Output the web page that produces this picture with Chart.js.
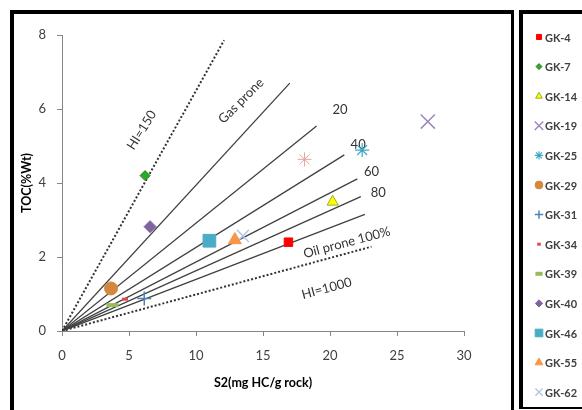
<!DOCTYPE html>
<html>
<head>
<meta charset="utf-8">
<script src="https://cdn.jsdelivr.net/npm/chart.js@4.4.0/dist/chart.umd.min.js"></script>
<style>
  html, body { margin: 0; padding: 0; background: #fff; }
  #wrap { position: relative; width: 582px; height: 410px; overflow: hidden; }
  #myChart { position: absolute; left: 0; top: 0; }
  .frame { position: absolute; border: 0 solid #000; box-sizing: border-box; }
</style>
</head>
<body>
<div id="wrap">
  <canvas id="myChart" width="582" height="410" style="width:582px;height:410px"></canvas>
  <div class="frame" style="left:10px; top:10px; width:504px; height:420px; border-width:4px 3px 0 4px;"></div>
  <div class="frame" style="left:519px; top:10px; width:80px; height:399px; border-width:4px 0 2px 4px;"></div>
</div>
<script>
// samples (the last one is not in the legend)
const samples = ["GK-4", "GK-7", "GK-14", "GK-19", "GK-25", "GK-29", "GK-31", "GK-34", "GK-39", "GK-40", "GK-46", "GK-55", "GK-62", ""];
const s2Values = [16.9, 6.2, 20.2, 27.3, 22.4, 3.66, 6.14, 4.7, 3.76, 6.57, 11.0, 12.9, 13.5, 18.1];
const tocValues = [2.40, 4.20, 3.49, 5.66, 4.89, 1.15, 0.88, 0.86, 0.70, 2.82, 2.44, 2.46, 2.57, 4.64];

// reference lines from the origin
const lineNames = ["HI=150", "Gas prone", "20", "40", "60", "80", "Oil prone 100%", "HI=1000"];
const lineEndS2 = [12.1, 17.0, 19.0, 21.07, 22.04, 22.3, 22.6, 23.1];
const lineEndToc = [7.86, 6.70, 5.54, 4.76, 4.11, 3.63, 3.15, 2.28];

// text labels on the plot
const labelTexts = ["HI=150", "Gas prone", "20", "40", "60", "80", "Oil prone 100%", "HI=1000"];
const labelS2 = [5.95, 13.36, 20.75, 22.1, 23.1, 23.6, 21.25, 19.75];
const labelToc = [5.43, 6.22, 5.99, 5.03, 4.31, 3.74, 2.39, 1.15];

const xTicks = [0, 5, 10, 15, 20, 25, 30];
const yTicks = [0, 2, 4, 6, 8];

// styles
const markers = [
  { style: "rect", color: "#ff0000", border: "#ff0000", r: 6, w: 1 },
  { style: "rectRot", color: "#22b022", border: "#3a7a2a", r: 5, w: 1 },
  { style: "triangle", color: "#ffff00", border: "#9aae2e", r: 6.5, w: 1 },
  { style: "crossRot", color: "#9f88c2", border: "#9f88c2", r: 10, w: 1.5 },
  { style: "star", color: "#3ea8c4", border: "#3ea8c4", r: 7, w: 1.2 },
  { style: "circle", color: "#d4883e", border: "#d4883e", r: 6.5, w: 1 },
  { style: "cross", color: "#4f81bd", border: "#4f81bd", r: 7, w: 1.5 },
  { style: "line", color: "#e04a46", border: "#e04a46", r: 3, w: 3 },
  { style: "line", color: "#9bbb59", border: "#9bbb59", r: 6, w: 4 },
  { style: "rectRot", color: "#8064a2", border: "#8064a2", r: 6, w: 1 },
  { style: "rect", color: "#4bacc6", border: "#4bacc6", r: 9, w: 1 },
  { style: "triangle", color: "#f79646", border: "#f79646", r: 7.5, w: 1 },
  { style: "crossRot", color: "#b4c7e7", border: "#b4c7e7", r: 8.5, w: 1.5 },
  { style: "star", color: "#e6a3a0", border: "#e6a3a0", r: 7, w: 1 }
];
const lineDotted = [true, false, false, false, false, false, false, true];
const labelAngle = [-58, -45, 0, 0, 0, 0, -15, -15];

const datasets = [];
for (let i = 0; i < samples.length; i++) {
  const m = markers[i];
  datasets.push({
    label: samples[i],
    data: [{ x: s2Values[i], y: tocValues[i] }],
    pointStyle: m.style,
    pointRadius: m.r,
    pointBackgroundColor: m.color,
    pointBorderColor: m.border,
    pointBorderWidth: m.w,
    showLine: false
  });
}
for (let i = 0; i < lineNames.length; i++) {
  datasets.push({
    label: lineNames[i],
    data: [{ x: 0, y: 0 }, { x: lineEndS2[i], y: lineEndToc[i] }],
    showLine: true,
    borderColor: lineDotted[i] ? "#333" : "#404040",
    borderWidth: lineDotted[i] ? 2 : 1.3,
    borderDash: lineDotted[i] ? [2, 2] : [],
    pointRadius: 0
  });
}

const overlay = {
  id: "overlay",
  beforeDatasetsDraw(chart) {
    const ctx = chart.ctx;
    const xs = chart.scales.x;
    const ys = chart.scales.y;
    ctx.save();
    ctx.fillStyle = "#333";
    ctx.font = "13px Lato";
    ctx.textAlign = "center";
    ctx.textBaseline = "middle";
    for (let i = 0; i < labelTexts.length; i++) {
      ctx.save();
      ctx.translate(xs.getPixelForValue(labelS2[i]), ys.getPixelForValue(labelToc[i]));
      ctx.rotate(labelAngle[i] * Math.PI / 180);
      ctx.fillText(labelTexts[i], 0, 0);
      ctx.restore();
    }
    ctx.restore();
  },
  afterDraw(chart) {
    // legend in the right box
    const ctx = chart.ctx;
    ctx.save();
    ctx.font = "bold 11px Lato";
    ctx.textAlign = "left";
    ctx.textBaseline = "middle";
    let y = 37;
    for (let i = 0; i < samples.length; i++) {
      if (!samples[i]) continue;
      const m = markers[i];
      ctx.fillStyle = m.color;
      ctx.strokeStyle = m.border;
      ctx.lineWidth = m.w;
      Chart.helpers.drawPoint(ctx, { pointStyle: m.style, radius: m.r * 0.6, borderWidth: m.w, rotation: 0 }, 539, y);
      ctx.fillStyle = "#404040";
      ctx.fillText(samples[i], 545, y + 1);
      y += 29.6;
    }
    ctx.restore();
  }
};

const config = {
  type: "scatter",
  data: { datasets: datasets },
  options: {
    responsive: false,
    animation: false,
    layout: { padding: { left: 14, top: 35, right: 118, bottom: 0 } },
    plugins: { legend: { display: false }, tooltip: { enabled: false } },
    scales: {
      x: {
        type: "linear",
        min: 0,
        max: 30,
        afterFit: (scale) => { scale.height = 79; },
        afterBuildTicks: (scale) => { scale.ticks = xTicks.map((v) => ({ value: v })); },
        ticks: { color: "#404040", font: { family: "Lato", size: 13 }, padding: 12 },
        grid: { drawOnChartArea: false, drawTicks: true, tickLength: 5, color: "#868686" },
        border: { color: "#868686" },
        title: { display: true, text: "S2(mg HC/g rock)", color: "#000", font: { family: "Lato", size: 12.5, weight: "bold" }, padding: { top: 0, bottom: 20 } }
      },
      y: {
        type: "linear",
        min: 0,
        max: 8,
        afterFit: (scale) => { scale.width = 48; },
        afterBuildTicks: (scale) => { scale.ticks = yTicks.map((v) => ({ value: v })); },
        ticks: { color: "#404040", font: { family: "Lato", size: 13 }, padding: 11 },
        grid: { drawOnChartArea: false, drawTicks: true, tickLength: 5, color: "#868686" },
        border: { color: "#868686" },
        title: { display: true, text: "TOC(%Wt)", color: "#000", font: { family: "Lato", size: 12.5, weight: "bold" }, padding: { top: 5, bottom: 0 } }
      }
    }
  },
  plugins: [overlay]
};

const myChart = new Chart(document.getElementById("myChart"), config);
</script>
</body>
</html>
